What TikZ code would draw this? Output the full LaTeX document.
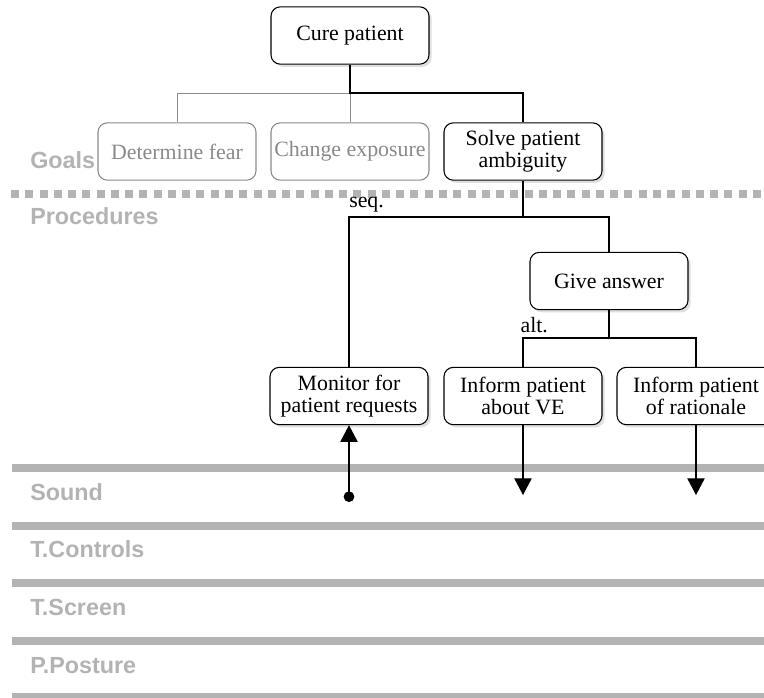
\documentclass[tikz,border=0pt]{standalone}
\usepackage{fontspec}
\setmainfont{Liberation Serif}
\newfontfamily\lanefont{Liberation Sans}
\usetikzlibrary{shadows}
\usetikzlibrary{arrows.meta}
\definecolor{lanegray}{HTML}{B3B3B3}
\definecolor{goalgray}{HTML}{8A8A8A}
\tikzstyle{task}=[draw,thick,rounded corners=7pt,align=center,minimum width=118.5pt,minimum height=43pt,inner sep=2pt,font=\fontsize{16.4}{16.5}\selectfont,fill=white]
\tikzstyle{activetask}=[task,drop shadow={shadow xshift=2pt,shadow yshift=-2pt,fill=black!25}]
\tikzstyle{idletask}=[task,draw=goalgray,text=goalgray]
\tikzstyle{link} = [draw,thick]
\tikzstyle{idlelink} = [draw,goalgray,semithick]
\tikzstyle{kind} = [inner xsep=0pt,inner ysep=3.5pt,font=\fontsize{16.4}{16.4}\selectfont]
\tikzstyle{laneline} = [draw,lanegray,line width=6pt]
\tikzstyle{lanelabel} = [anchor=base west,inner sep=0pt,text=lanegray,font=\lanefont\bfseries\fontsize{17.5}{17.5}\selectfont]
\tikzstyle{outarrow} = [draw,thick,-{Triangle[width=13pt,length=12.5pt]}]
\tikzstyle{inarrow} = [draw,thick,{Circle[length=8pt]}-{Triangle[width=13pt,length=12.5pt]}]

\begin{document}
\begin{tikzpicture}[x=0.75pt,y=-0.75pt]
    \useasboundingbox (0,0) rectangle (764,697);

    % lanes
    \draw[lanegray,line width=6pt,dash pattern=on 6pt off 4.7pt] (11,194) -- (780,194);
    \foreach \y in {468,526,583,641,697}
        \draw[laneline] (12,\y) -- (780,\y);
    \foreach \y/\name in {168/Goals, 224/Procedures, 500/Sound, 557/T.Controls, 615/T.Screen, 673/P.Posture}
        \node[lanelabel] at (30,\y) {\name};

    % goals
    \node[activetask] (cure) at (350,35.5) {Cure patient};
    \node[idletask] (fear) at (177,151.5) {Determine fear};
    \node[idletask] (exposure) at (350,151.5) {Change exposure};
    \node[activetask] (ambiguity) at (523,151.5) {Solve patient\\ambiguity};

    % procedures
    \node[activetask] (answer) at (609,281) {Give answer};
    \node[activetask] (monitor) at (349,396) {Monitor for\\patient requests};
    \node[activetask] (informve) at (523,396) {Inform patient\\about VE};
    \node[activetask] (rationale) at (696,396) {Inform patient\\of rationale};

    \coordinate (goalsplit) at (350,93);
    \coordinate (seqsplit) at (523,217);
    \coordinate (altsplit) at (609,338);
    \coordinate (soundin) at (349,502);
    \coordinate (veout) at (523,495);
    \coordinate (rationaleout) at (696,495);

    % goal tree
    \path[idlelink] (fear.north) |- (goalsplit) -- (exposure.north);
    \path[link] (cure.south) -- (goalsplit) -| (ambiguity.north);

    % procedure tree
    \path[link] (ambiguity.south) -- (seqsplit);
    \path[link] (monitor.north) |- (seqsplit) -| (answer.north);
    \node[kind,anchor=south west] at (monitor.north |- seqsplit) {seq.};
    \path[link] (answer.south) -- (altsplit);
    \path[link] (informve.north) |- (altsplit) -| (rationale.north);
    \node[kind,anchor=south west,xshift=-2pt] at (informve.north |- altsplit) {alt.};

    % interface links
    \path[inarrow] (soundin) -- (monitor.south);
    \path[outarrow] (informve.south) -- (veout);
    \path[outarrow] (rationale.south) -- (rationaleout);
\end{tikzpicture}
\end{document}
